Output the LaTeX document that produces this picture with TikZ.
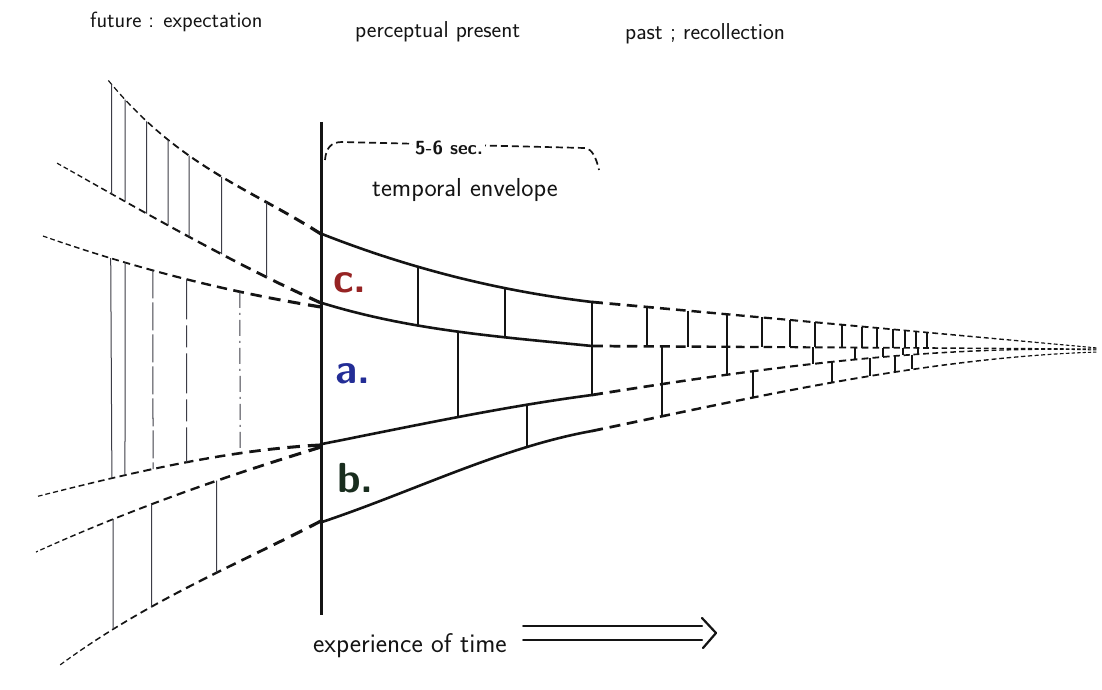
\documentclass[tikz,border=0pt]{standalone}
\usepackage{fontspec}
\usetikzlibrary{arrows.meta}
\definecolor{cred}{RGB}{150,35,35}
\definecolor{cblue}{RGB}{35,45,150}
\definecolor{cgreen}{RGB}{25,45,30}
\definecolor{ink}{RGB}{20,20,20}
\definecolor{thinink}{RGB}{60,60,70}

\newcommand\ptatx[6]{\path #1 .. controls #2 and #3 .. #4 coordinate[pos=#5] (#6);}
\newcommand\ptat[3]{\expandafter\ptatx#1{#2}{#3}}
\newcommand\curvex[5]{\draw[#5] #1 .. controls #2 and #3 .. #4;}
\newcommand\drawcurve[2]{\expandafter\curvex#1{#2}}
\newcommand\pdashx[7]{%
  \pgfmathsetmacro\nmax{int(ceil(-ln(1-#6)/(#5*#6)))}%
  \foreach \i in {0,...,\nmax}{%
    \pgfmathsetmacro\ta{(1-exp(-#5*#6*\i))/#6}%
    \pgfmathsetmacro\tb{min((1-exp(-#5*#6*(\i+0.62)))/#6,1)}%
    \pgfmathsetmacro\lw{#7*(1-0.65*\ta)}%
    \ifdim\ta pt<0.995pt
      \path #1 .. controls #2 and #3 .. #4 coordinate[pos=\ta] (da) coordinate[pos=\tb] (db);
      \draw[line width=\lw pt, line cap=butt, ink] (da) -- (db);
    \fi
  }}
\newcommand\pdash[4]{\expandafter\pdashx#1{#2}{#3}{#4}}
\newcommand\tickline[5]{\ptat{#1}{#2}{tka}\ptat{#3}{#4}{tkb}\draw[#5] (tka) -- (tkb);}

% solid envelope curves
\def\curveSa{{(322,234)}{(412,269.4)}{(502,291.4)}{(592,302)}}
\def\curveSb{{(322,303)}{(412,330.8)}{(502,336.9)}{(592,346)}}
\def\curveSc{{(322,444)}{(412,426.2)}{(502,406.8)}{(592,395)}}
\def\curveSd{{(322,522)}{(412,492)}{(502,447)}{(592,431)}}
% past (right) dashed curves
\def\curveRa{{(592,302)}{(760.7,317.3)}{(929.3,332.7)}{(1098,348)}}
\def\curveRb{{(592,346)}{(760.7,347)}{(929.3,348)}{(1098,349)}}
\def\curveRc{{(592,395)}{(760.7,368)}{(929.3,345)}{(1098,350)}}
\def\curveRd{{(592,431)}{(760.7,395.7)}{(929.3,357.3)}{(1098,352)}}
% future (left) dashed curves
\def\curveFa{{(321,234)}{(250,188.5)}{(179,166.6)}{(108,80)}}
\def\curveFb{{(321,303)}{(232.3,263)}{(143.7,212)}{(55,162)}}
\def\curveFc{{(321,307)}{(227.3,292)}{(133.7,268)}{(40,235)}}
\def\curveFd{{(321,445)}{(225.7,450)}{(130.3,473)}{(35,497)}}
\def\curveFe{{(321,447)}{(226,476)}{(131,509)}{(36,552)}}
\def\curveFf{{(321,521)}{(234,566)}{(147,601)}{(60,665)}}

\begin{document}
\begin{tikzpicture}[x=1pt,y=-1pt,
  hand/.style={font=\sffamily\fontsize{22}{25}\selectfont, text=ink, inner sep=0pt, anchor=base west},
  bandlabel/.style={font=\sffamily\bfseries\fontsize{42}{46}\selectfont, inner sep=0pt, anchor=base west},
  solidline/.style={line width=2.6pt, ink, line cap=round},
  solidtick/.style={line width=2.4pt, ink, line cap=round},
  thinv/.style={line width=1pt, thinink}]
\fill[white] (0,0) rectangle (1102,690);
\useasboundingbox (0,0) rectangle (1102,690);

% headings
\node[hand] (fut) at (90,28) {future : expectation};
\node[hand, font=\sffamily\fontsize{23}{26}\selectfont] (pres) at (355,38) {perceptual present};
\node[hand, font=\sffamily\fontsize{23}{26}\selectfont] (past) at (625,40) {past ; recollection};
\node[hand, font=\sffamily\fontsize{26}{29}\selectfont] (env) at (372,196) {temporal envelope};

% now line
\coordinate (vtop) at (321.5,122);
\coordinate (vbot) at (321.5,615);
\draw[line width=2.4pt, ink] (vtop) -- (vbot);

% bracket 5-6 sec
\coordinate (brA) at (325,160);
\coordinate (brB) at (342,142);
\coordinate (brC) at (585,148);
\coordinate (brD) at (599,170);
\draw[line width=1.7pt, ink, dash pattern=on 7pt off 4pt]
  (brA) .. controls (326,148) and (331,142) .. (brB) -- (brC)
  .. controls (592,149) and (596,157) .. (brD);
\node[fill=white, inner sep=2pt, font=\sffamily\bfseries\fontsize{19}{21}\selectfont, text=ink] (sec) at (449,148) {5-6 sec.};

% solid envelope
\drawcurve{\curveSa}{solidline}
\drawcurve{\curveSb}{solidline}
\drawcurve{\curveSc}{solidline}
\drawcurve{\curveSd}{solidline}
\tickline{\curveSa}{0.356}{\curveSb}{0.356}{solidtick}
\tickline{\curveSa}{0.678}{\curveSb}{0.678}{solidtick}
\tickline{\curveSa}{1}{\curveSc}{1}{solidtick}
\tickline{\curveSb}{0.504}{\curveSc}{0.504}{solidtick}
\tickline{\curveSc}{0.759}{\curveSd}{0.759}{solidtick}

% band labels
\node[bandlabel, text=cred] (lc) at (333,292) {c.};
\node[bandlabel, text=cblue] (la) at (335,383) {a.};
\node[bandlabel, text=cgreen] (lb) at (337,492) {b.};

% past: receding dashed lines
\pdash{\curveRa}{0.0354}{0.72}{2.8}
\pdash{\curveRb}{0.0354}{0.72}{2.8}
\pdash{\curveRc}{0.0354}{0.72}{2.8}
\pdash{\curveRd}{0.0354}{0.72}{2.8}
\foreach \x in {647,688,727,762,790,815,842,862,877,893,905,916,927}{
  \pgfmathsetmacro\tt{(\x-592)/506}\pgfmathsetmacro\ww{2.2*(1-0.6*\tt)}
  \tickline{\curveRa}{\tt}{\curveRb}{\tt}{line width=\ww pt, ink}}
\foreach \x in {662,727,813,855,883,903,918}{
  \pgfmathsetmacro\tt{(\x-592)/506}\pgfmathsetmacro\ww{2.2*(1-0.6*\tt)}
  \tickline{\curveRb}{\tt}{\curveRc}{\tt}{line width=\ww pt, ink}}
\foreach \x in {662,753,832,870,895,912}{
  \pgfmathsetmacro\tt{(\x-592)/506}\pgfmathsetmacro\ww{2.2*(1-0.6*\tt)}
  \tickline{\curveRc}{\tt}{\curveRd}{\tt}{line width=\ww pt, ink}}

% future: dashed lines fanning out
\pdash{\curveFa}{0.081}{0.68}{3.2}
\pdash{\curveFb}{0.073}{0.68}{3.2}
\pdash{\curveFc}{0.076}{0.68}{3.2}
\pdash{\curveFd}{0.076}{0.68}{3.2}
\pdash{\curveFe}{0.072}{0.68}{3.2}
\pdash{\curveFf}{0.074}{0.68}{3.2}
\foreach \x in {111.7,125,146.7,168,189,221.7,266.7}{
  \pgfmathsetmacro\ta{(321-\x)/213}\pgfmathsetmacro\tb{(321-\x)/266}
  \tickline{\curveFa}{\ta}{\curveFb}{\tb}{thinv}}
\tickline{\curveFc}{0.7484}{\curveFd}{0.7311}{thinv}
\tickline{\curveFc}{0.6975}{\curveFd}{0.6853}{thinv}
\tickline{\curveFc}{0.5979}{\curveFd}{0.5874}{thinv, dash pattern=on 28pt off 4pt}
\tickline{\curveFc}{0.4779}{\curveFd}{0.4696}{thinv, dash pattern=on 40pt off 6pt on 22pt off 6pt}
\tickline{\curveFc}{0.2883}{\curveFd}{0.2832}{thinv, dash pattern=on 16pt off 5pt on 2pt off 5pt}
\foreach \x in {113,151.7,216.7}{
  \pgfmathsetmacro\ta{(321-\x)/285}\pgfmathsetmacro\tb{(321-\x)/261}
  \tickline{\curveFe}{\ta}{\curveFf}{\tb}{thinv}}

% experience of time
\node[hand, font=\sffamily\fontsize{27}{30}\selectfont] (exp) at (313,652) {experience of time};
\coordinate (arSa) at (523,626);
\coordinate (arEa) at (702,626);
\coordinate (arSb) at (523,640);
\coordinate (arEb) at (702,640);
\coordinate (chA) at (702,618);
\coordinate (chT) at (716,633);
\coordinate (chB) at (703,648);
\draw[line width=2pt, ink, line cap=round] (arSa) -- (arEa);
\draw[line width=2pt, ink, line cap=round] (arSb) -- (arEb);
\draw[line width=2.2pt, ink, line cap=round, line join=round] (chA) -- (chT) -- (chB);
\end{tikzpicture}
\end{document}
